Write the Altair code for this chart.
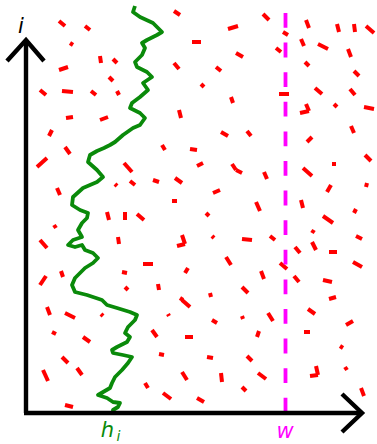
import altair as alt
import pandas as pd

# Canvas frame: x grows right, y grows downward (0..444)
W, H = 377, 444

# Scattered red dashes: start and end points of each short stroke
DASH_X1 = [59, 85, 70, 100, 113, 59, 109, 40, 62, 91, 117, 66, 100, 49, 65, 162, 174, 174, 179,
           263, 228, 192, 283, 306, 337, 354, 366, 236, 276, 301, 318, 348, 216, 305, 354, 201, 231,
           279, 315, 350, 334, 364, 300, 309, 221, 247, 351, 307, 190,
           37, 124, 57, 115, 130, 153, 175, 172, 107, 125, 137, 54, 40, 118, 182, 185, 143, 122, 40,
           61, 125, 158, 185, 180,
           47, 65, 101, 52, 83, 62, 43, 77, 65, 152, 159, 168, 182, 145, 163, 182, 185,
           197, 232, 236, 264, 303, 334, 365, 213, 256, 301, 327, 366, 206, 323, 354, 212, 242, 270,
           312, 312, 295, 329, 356, 226, 280, 353, 261, 294, 323, 242, 210, 329,
           212, 242, 268, 308, 257, 304, 346, 207, 247, 340, 221, 258, 310, 318, 345, 242, 197, 361]
DASH_Y1 = [21, 26, 43, 56, 59, 70, 77, 90, 91, 91, 91, 118, 120, 136, 147, 145, 11, 63, 110,
           14, 29, 42, 32, 20, 24, 24, 26, 53, 48, 39, 44, 49, 67, 62, 71, 84, 97,
           94, 88, 89, 104, 107, 113, 111, 132, 131, 126, 142, 149,
           167, 163, 188, 184, 181, 180, 178, 201, 212, 212, 214, 225, 240, 237, 235, 244, 264, 272, 285,
           271, 287, 284, 273, 298,
           307, 313, 314, 332, 337, 357, 370, 368, 405, 330, 354, 314, 372, 383, 393, 300, 337,
           166, 164, 170, 172, 168, 162, 155, 193, 202, 200, 192, 187, 213, 216, 213, 236, 239, 236,
           233, 242, 247, 252, 236, 257, 263, 262, 271, 276, 280, 287, 293, 299,
           320, 316, 313, 309, 337, 332, 325, 357, 356, 346, 373, 373, 376, 375, 367, 387, 398, 388]
DASH_X2 = [65, 90, 73, 101, 117, 68, 113, 46, 73, 96, 119, 73, 108, 52, 70, 165, 180, 179, 181,
           269, 238, 201, 288, 309, 339, 355, 374, 243, 281, 304, 328, 351, 221, 309, 359, 204, 233,
           289, 322, 355, 337, 374, 309, 306, 228, 251, 354, 312, 197,
           47, 132, 60, 117, 135, 159, 182, 177, 109, 125, 144, 56, 47, 119, 185, 177, 153, 127, 46,
           63, 128, 159, 188, 183,
           50, 75, 103, 56, 90, 68, 48, 82, 73, 157, 164, 169, 187, 148, 171, 190, 193,
           203, 236, 242, 267, 312, 334, 371, 220, 260, 303, 331, 367, 209, 333, 356, 214, 252, 275,
           314, 316, 300, 337, 362, 231, 287, 362, 264, 299, 332, 248, 211, 336,
           217, 243, 273, 315, 259, 310, 353, 213, 252, 343, 222, 266, 318, 316, 347, 246, 204, 364]
DASH_Y2 = [26, 30, 45, 63, 63, 67, 81, 95, 92, 95, 95, 117, 117, 130, 154, 150, 15, 69, 118,
           20, 26, 42, 35, 28, 32, 32, 33, 57, 52, 46, 49, 57, 71, 66, 76, 87, 103,
           94, 94, 95, 107, 109, 111, 104, 136, 136, 133, 137, 150,
           158, 172, 195, 186, 185, 182, 183, 201, 220, 220, 220, 228, 248, 244, 244, 246, 264, 273, 276,
           277, 290, 290, 268, 300,
           315, 318, 316, 334, 342, 363, 381, 375, 407, 337, 355, 316, 380, 388, 399, 307, 337,
           163, 170, 173, 179, 176, 166, 161, 190, 211, 208, 185, 183, 216, 223, 209, 238, 240, 240,
           230, 250, 253, 252, 239, 265, 269, 267, 279, 282, 282, 293, 297, 297,
           323, 319, 321, 314, 331, 332, 321, 358, 361, 348, 382, 379, 375, 366, 370, 391, 402, 396]

# Green wandering path h_i, listed from top to bottom
GREEN_X = [135, 133, 140, 153, 162, 157, 147, 142, 145, 142, 135, 137, 147, 152, 143, 148, 140, 132,
           130, 140, 145, 140, 133, 123, 115, 110, 104, 97, 90, 88, 97, 103, 97, 83, 73, 72, 80, 88,
           87, 82, 78, 82, 73, 68, 75, 82, 85, 93, 98, 93, 85, 80, 75, 72, 75, 87, 102, 107, 117,
           130, 137, 135, 128, 125, 130, 127, 117, 112, 113, 123, 132, 128, 122, 115, 112, 110, 98,
           107, 113, 120, 118, 113, 113]
GREEN_Y = [6, 12, 17, 23, 32, 35, 40, 43, 48, 55, 62, 67, 72, 77, 83, 90, 97, 103,
           108, 113, 118, 125, 128, 135, 142, 145, 148, 151, 155, 162, 170, 177, 182, 188, 197, 205, 210, 213,
           218, 223, 230, 237, 240, 245, 247, 245, 250, 253, 258, 263, 268, 273, 278, 285, 292, 295, 300, 305, 308,
           312, 315, 320, 327, 333, 337, 342, 347, 350, 353, 355, 357, 363, 370, 377, 383, 388, 395,
           398, 402, 403, 407, 410, 413]

# Threshold w: vertical dashed line
W_X = 285.5
W_TOP, W_BOTTOM = 13, 413

# Axis frame: origin, arrow tips and arrowhead wings
ORIGIN_X, ORIGIN_Y = 26, 413
Y_TIP = 40
X_TIP = 362
Y_HEAD_X = [7, 26, 44]
Y_HEAD_Y = [61, 40, 61]
X_HEAD_X = [342, 362, 342]
X_HEAD_Y = [394, 413, 432]

# Labels
LABEL_TEXT = ["i", "h", "i", "w"]
LABEL_X = [21, 107.5, 118.5, 285]
LABEL_Y = [33, 437, 441, 438]
LABEL_SIZE = [21, 21, 14, 21]
LABEL_COLOR = ["black", "#0a8a0a", "#0a8a0a", "#ff00ff"]

xs = alt.Scale(domain=[0, W], nice=False, zero=False)
ys = alt.Scale(domain=[0, H], nice=False, zero=False, reverse=True)

dashes = pd.DataFrame({"x1": DASH_X1, "y1": DASH_Y1, "x2": DASH_X2, "y2": DASH_Y2})
red = alt.Chart(dashes).mark_rule(color="#ff0000", strokeWidth=4, strokeCap="butt").encode(
    x=alt.X("x1:Q", scale=xs, axis=None),
    y=alt.Y("y1:Q", scale=ys, axis=None),
    x2="x2:Q",
    y2="y2:Q",
)

green_df = pd.DataFrame({"x": GREEN_X, "y": GREEN_Y, "k": range(len(GREEN_X))})
green = alt.Chart(green_df).mark_line(color="#0a8a0a", strokeWidth=3.8, strokeJoin="round").encode(
    x=alt.X("x:Q", scale=xs, axis=None),
    y=alt.Y("y:Q", scale=ys, axis=None),
    order="k:Q",
)

wline = alt.Chart(pd.DataFrame({"x": [W_X], "y": [W_TOP], "y2": [W_BOTTOM]})).mark_rule(
    color="#ff00ff", strokeWidth=3.8, strokeDash=[14.8, 14.8], strokeCap="butt"
).encode(
    x=alt.X("x:Q", scale=xs, axis=None),
    y=alt.Y("y:Q", scale=ys, axis=None),
    y2="y2:Q",
)

axes_df = pd.DataFrame({
    "x": [ORIGIN_X, ORIGIN_X - 2],
    "y": [Y_TIP + 1, ORIGIN_Y],
    "x2": [ORIGIN_X, X_TIP - 1],
    "y2": [ORIGIN_Y, ORIGIN_Y],
})
axes = alt.Chart(axes_df).mark_rule(color="black", strokeWidth=4.4, strokeCap="butt").encode(
    x=alt.X("x:Q", scale=xs, axis=None),
    y=alt.Y("y:Q", scale=ys, axis=None),
    x2="x2:Q",
    y2="y2:Q",
)

heads_df = pd.DataFrame({
    "x": Y_HEAD_X + X_HEAD_X,
    "y": Y_HEAD_Y + X_HEAD_Y,
    "g": ["y"] * 3 + ["x"] * 3,
    "k": [0, 1, 2, 0, 1, 2],
})
heads = alt.Chart(heads_df).mark_line(color="black", strokeWidth=4.4, strokeJoin="miter").encode(
    x=alt.X("x:Q", scale=xs, axis=None),
    y=alt.Y("y:Q", scale=ys, axis=None),
    detail="g:N",
    order="k:Q",
)

labels_df = pd.DataFrame({"t": LABEL_TEXT, "x": LABEL_X, "y": LABEL_Y, "s": LABEL_SIZE, "c": LABEL_COLOR})
labels = alt.Chart(labels_df).mark_text(
    font="DejaVu Sans", fontStyle="italic", baseline="alphabetic", align="center"
).encode(
    x=alt.X("x:Q", scale=xs, axis=None),
    y=alt.Y("y:Q", scale=ys, axis=None),
    text="t:N",
    size=alt.Size("s:Q", scale=None, legend=None),
    color=alt.Color("c:N", scale=None, legend=None),
)

chart = alt.layer(red, wline, green, axes, heads, labels).properties(
    width=W, height=H, padding=0, autosize=alt.AutoSizeParams(type="none")
).configure_view(stroke=None)

chart.save("out.html", embed_options={"renderer": "svg", "actions": False})
